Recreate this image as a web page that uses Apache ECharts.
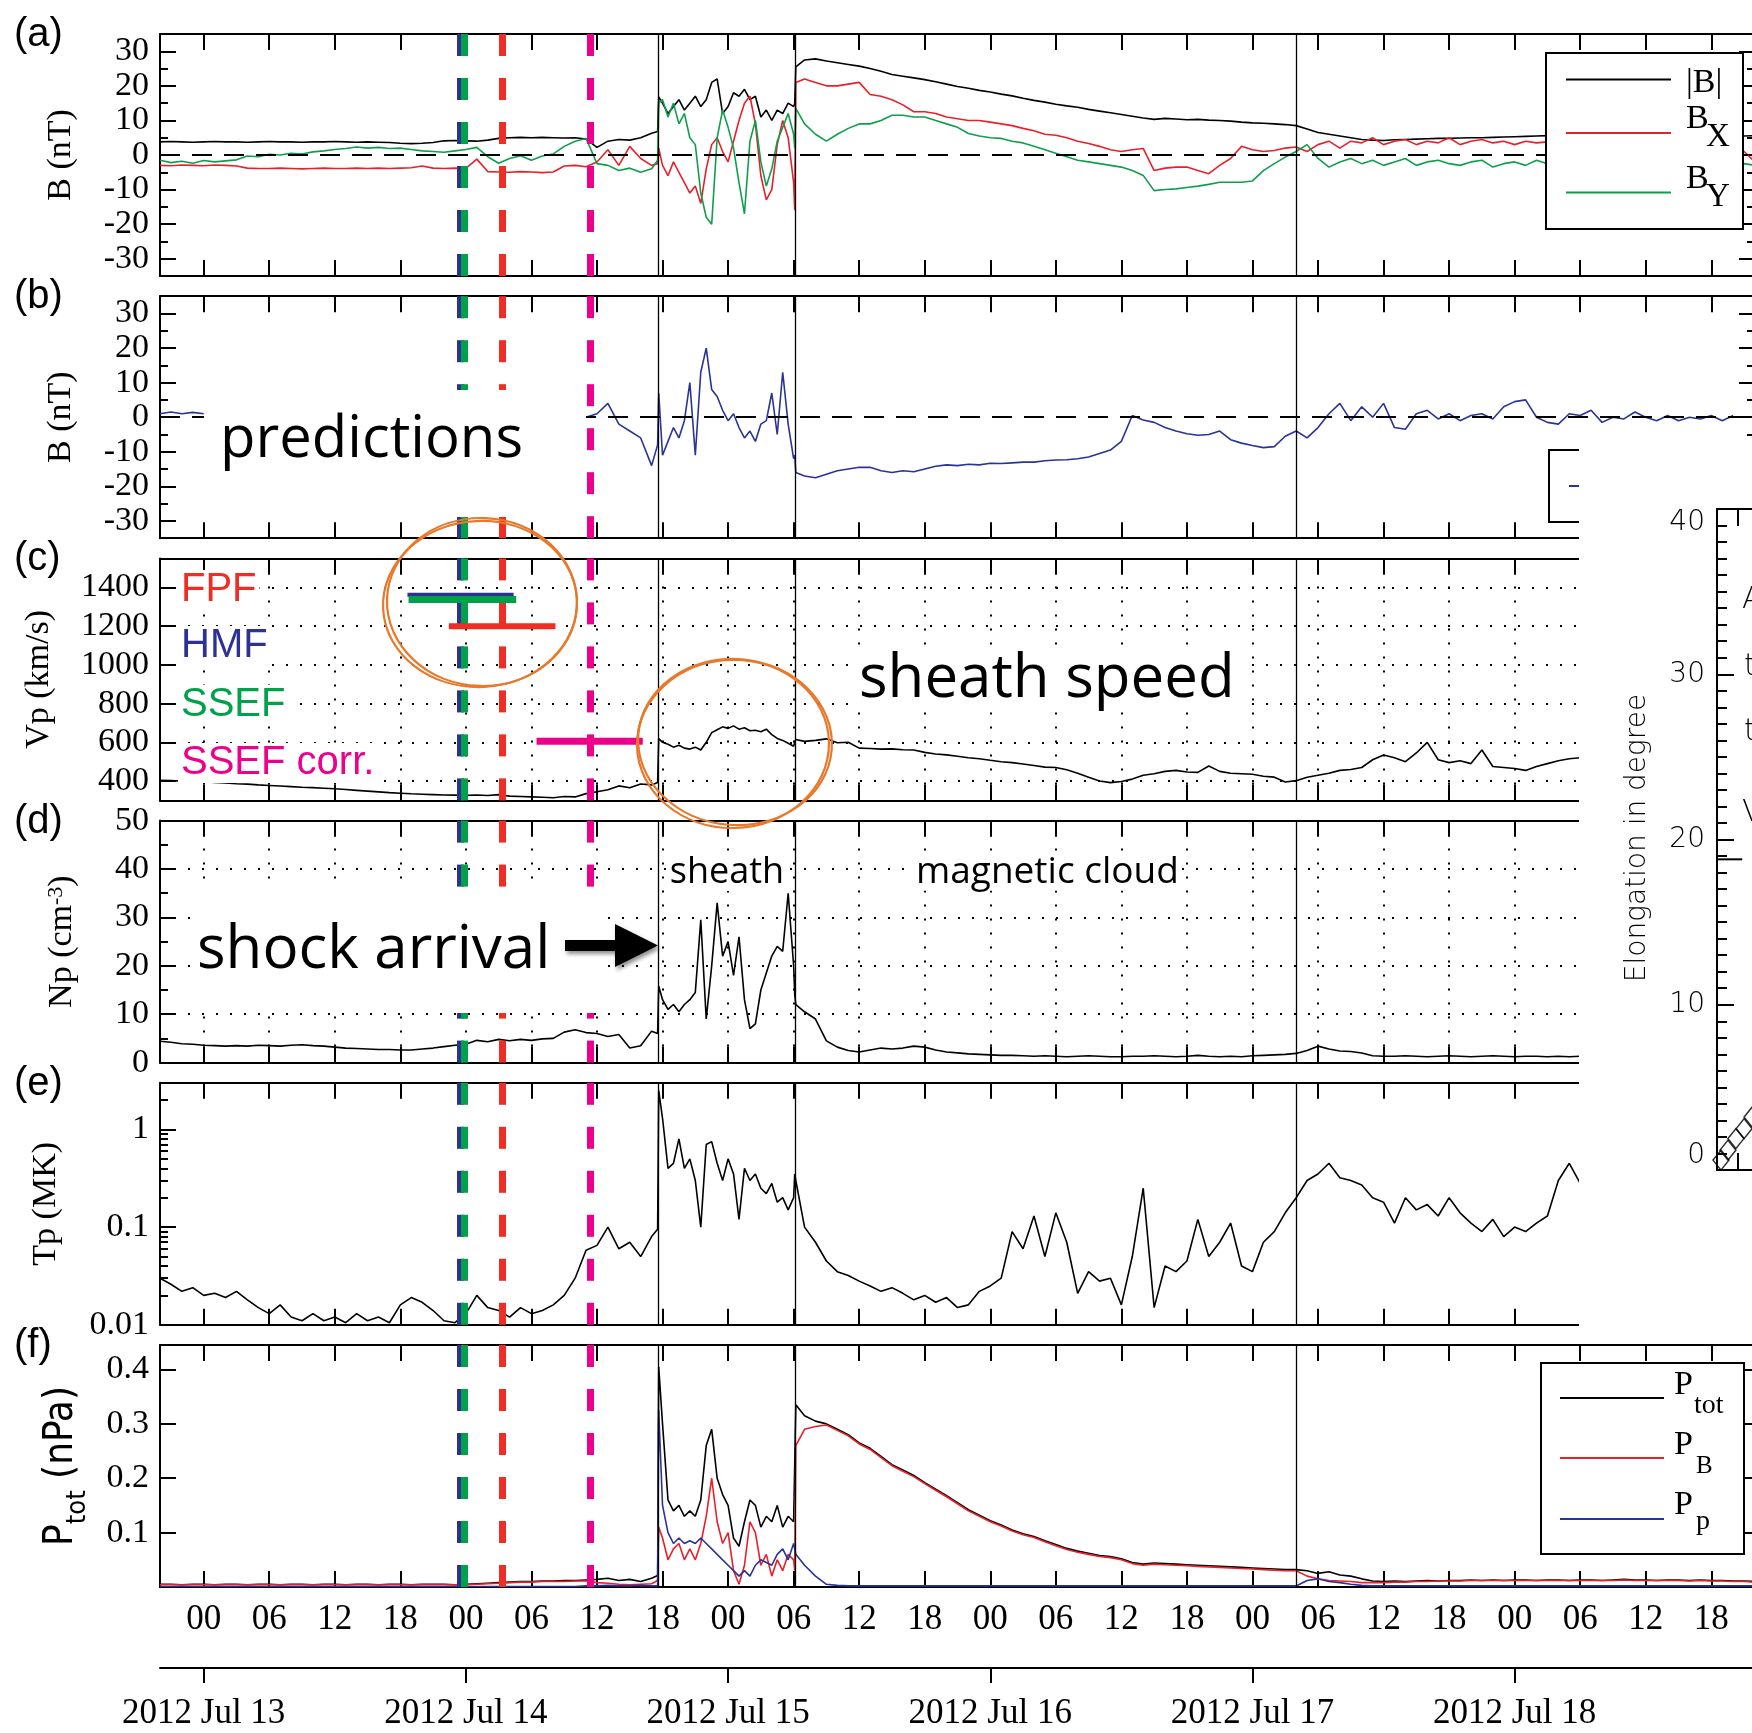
<!DOCTYPE html>
<html>
<head>
<meta charset="utf-8">
<title>2012 July 12 CME - in situ</title>
<script src="https://cdn.jsdelivr.net/npm/echarts@6/dist/echarts.min.js"></script>
<style>
html, body { margin: 0; padding: 0; background: #fff; }
#main { width: 1752px; height: 1733px; }
</style>
</head>
<body>
<div id="main"></div>
<script>
// time in hours from 2012 Jul 12 20:00 UT
var hrs = [
  0,1,2,3,4,5,6,7,8,9, 10,11,12,13,14,15,16,17,18,19, 20,21,22,23,24,25,26,27,28,29,
  30,31,32,33,34,35,36,37,38,39, 40,41,42,43,44,45,
  45.55,45.65,
  46,46.5,47,47.5,48,48.5,49,49.5,50,50.5,51,51.5,52,52.5,53,53.5,54,54.5,55,55.5,56,56.5,57,57.5,58,
  58.1,58.2,
  59,60,61,62,63,64,65,66,67,68, 69,70,71,72,73,74,75,76,77,78, 79,80,81,82,83,84,85,86,87,88,
  89,90,91,92,93,94,95,96,97,98, 99,100,101,102,103,104,105,106,107,108,
  109,110,111,112,113,114,115,116,117,118, 119,120,121,122,123,124,125,126,127,128,
  129,130,131,132,133,134,135,136,137,138, 139,140,141,142,143,144,145,146
];

// (a) |B|, Bx, By  [nT]
var bMag = [
  3.8,3.9,3.8,3.7,3.8,3.9,3.8,3.8,3.7,3.8, 3.9,3.8,3.8,3.7,3.8,3.8,3.9,3.8,3.7,3.8,
  3.7,3.6,3.4,3.3,3.4,3.6,4.1,4.2,4.1,4.0, 4.3,4.8,5.0,5.1,5.0,5.1,5.0,4.9,5.0,4.6,
  2.2,4.0,4.5,4.3,5.0,6.3,
  6.8,16.8,
  15,12,14,16,13,15,17,14,16,21,22,12,14,18,17,19,16,17,11,13,10,13,12,15,14,
  15,25.5,
  27.5,27.8,27.2,26.7,26.2,25.7,25.0,24.2,23.3,22.8, 22.3,21.8,21.2,20.5,19.8,19.3,18.7,18.2,17.6,17.1,
  16.4,15.8,15.3,14.7,14.2,13.8,13.2,12.7,12.2,11.7, 11.2,10.7,10.3,10.6,10.4,10.2,10.3,10.1,10.0,9.8,
  9.5,9.3,9.2,9.0,8.8,8.5,7.5,6.5,6.0,5.5, 5.0,4.5,4.3,4.2,4.4,4.5,4.6,4.7,4.8,4.8,
  4.9,5.0,5.0,5.1,5.2,5.3,5.4,5.5,5.6,5.6, 5.6,5.5,5.6,5.7,5.6,5.5,5.6,5.7,5.6,5.5,
  5.6,5.7,5.6,5.5,5.6,5.6,5.5,5.6
];
var bX = [
  -3.0,-3.1,-2.9,-3.0,-3.1,-2.9,-3.0,-3.2,-3.8,-3.9, -3.9,-3.8,-3.9,-4.0,-3.9,-3.8,-3.9,-3.9,-3.8,-3.9,
  -3.8,-3.9,-3.8,-3.7,-3.2,-3.8,-3.9,-3.8,-3.9,-1.2, -4.8,-4.9,-5.0,-4.8,-4.9,-5.1,-4.9,-3.2,-3.0,-3.4,
  -2.0,1.5,-3.0,2.5,-1.0,-3.0,
  -2.5,2,
  -3,-6,-2,-5,-8,-11,-9,-14,-4,3,5,1,-2,4,10,15,17,9,-6,-13,-10,3,10,5,-8,
  -16,21,
  22,21,20,20,20.5,21,17.5,17,16,14.5, 12.5,12.5,12,11,10.5,10,10,9.5,9,8.5,
  7.7,7,6,5.7,5,4,3.3,2.5,1.5,1, 1.5,1.9,-4.5,-3.8,-3.5,-3.5,-4.5,-5.4,-3,-1,
  2.5,1.5,1,1.3,2,2.3,1,3,4,2, 4,3.5,5,3,4,4.5,3,4,3.5,5,
  3,4,4.5,3.5,4,3,4,3.5,3.8,3.5, 3.6,3.2,3.8,3.5,3.4,3.9,3.3,3.6,3.5,3.2,
  3.4,3.1,3.3,2.8,2.5,2,1,-2
];
var bY = [
  -1.5,-2.2,-1.8,-2.4,-1.6,-2.0,-1.7,-1.4,-0.3,-0.5, 0.2,0.0,0.5,0.3,0.9,1.2,1.6,1.9,2.3,2.0,
  2.2,1.9,2.0,1.6,1.2,1.0,0.8,1.2,1.6,2.2, -0.5,-2.4,-1.0,-0.2,-1.5,-0.3,0.3,2.5,4.0,4.8,
  -2.5,-3.0,-4.5,-3.8,-5.0,-4.0,
  -1.5,15,
  16,11,15,9,12,5,3,-11,-18,-20,5,13,8,2,-8,-17,4,10,-2,-9,-4,4,8,12,6,
  2,13.5,
  9,6,4,6,7.7,9,9,10,11.5,11.5, 11,11,10,9,8,6.2,5.5,5,4.8,4,
  3.5,2.5,1.5,0.5,-0.5,-1.5,-2,-2.5,-3,-3.5, -4.5,-5.9,-10.3,-10,-9.8,-9.4,-9,-8.5,-7.9,-7.9,
  -7.9,-7.5,-4.5,-2.5,-0.6,1,3,-1,-3.5,-2, -1,-2.5,-1.5,-3,-2,-1,-3,-2,-1.5,-2.5,
  -3,-2,-1.5,-3.5,-2.5,-2,-3,-1.5,-2.5,-3, -2.2,-3,-2.5,-3.5,-2,-2.8,-3.2,-2.5,-3,-2.2,
  -2.8,-3.3,-2.5,-3,-2.2,-2.8,-2.5,-3
];
// (b) Bz [nT]
var bZ = [
  1.0,1.5,1.0,1.4,1.0,
  null,null,null,null,null,null,null,null,null,null,null,null,null,null,null,null,null,
  null,null,null,null,null,null,null,null,null,null,null,null,null,null,null,
  -0.5,3,0,1,4,-2,-4,
  -6,-14,
  -8,7,-11,-7,-3,-6,-1,10,-11,13,20,8,6,2,-1,1,-3,-6,-4,-7,-2,-1,7,-5,13,
  -2,-12,
  -11,-16,-17,-17.5,-16.5,-15.5,-15,-14.5,-14.5,-15.5, -16,-15.5,-15.8,-15,-14.2,-13.8,-14,-13.6,-13.8,-13.3,
  -13.4,-13.2,-13,-13,-12.6,-12.4,-12.3,-12,-11.5,-10.5, -9.5,-7,0.5,-0.8,-1.5,-3,-4,-4.8,-5.2,-5,
  -4,-6.5,-7.5,-8.2,-8.8,-8.5,-5.5,-4,-6,-3, 1,4,-1,3,0,4,-3,-3.5,1,2,
  -0.5,1,-1,0.5,1,-0.5,3,4.5,5,0, -1.5,-2,1,0.5,2,-1.5,0,-0.5,1.5,0,
  -1,0.5,-1,0,-0.5,0.5,-1,0.5
];
// (c) Vp [km/s]
var vP = [
  404,402,400,398,396,393,390,386,384,380, 377,374,371,368,366,363,360,356,352,348,
  344,340,337,334,332,330,328,327,326,328, 325,330,322,320,318,316,314,320,318,335,
  345,355,375,365,385,380,
  392,620,
  600,590,575,585,570,565,575,560,600,650,665,680,672,685,668,675,660,662,655,668,640,620,610,595,580,
  600,615,
  605,610,618,598,600,570,568,565,566,562, 560,548,540,535,528,520,515,507,500,495,
  488,480,472,470,458,440,420,400,392,398, 410,430,438,450,455,447,445,478,450,440,
  438,435,425,420,395,402,420,430,440,455, 460,470,510,535,520,500,545,600,510,495,
  505,490,560,475,470,465,455,475,490,505, 515,520
];
// (d) Np [cm^-3]
var nP = [
  4.4,4.2,3.9,3.8,3.6,3.5,3.4,3.5,3.4,3.6, 3.5,3.4,3.6,3.7,3.5,3.4,3.2,3.0,2.9,2.8,
  2.7,2.7,2.6,2.6,2.8,3.0,3.3,3.6,3.8,4.6, 4.3,4.8,4.5,4.8,4.6,4.9,5.0,6.3,6.8,6.2,
  6.0,5.4,5.8,3.0,3.5,6.5,
  6.0,15.8,
  13,11,12,10.5,12,13,14.5,29.5,9,20,33,22,25,18,26,13,7,8,15,18.5,22,24,23,35,20,
  14,12,
  10.5,9,4.5,3.2,2.5,2.2,2.6,3.0,2.8,3.0, 3.4,3.2,2.6,2.2,2.0,1.8,1.7,1.6,1.5,1.5,
  1.4,1.3,1.4,1.3,1.2,1.3,1.4,1.3,1.2,1.2, 1.3,1.3,1.4,1.3,1.2,1.3,1.5,1.3,1.2,1.3,
  1.2,1.4,1.5,1.6,1.7,1.9,2.5,3.4,2.8,2.4, 2.3,2.0,1.4,1.3,1.3,1.4,1.3,1.2,1.3,1.4,
  1.3,1.2,1.3,1.4,1.3,1.2,1.3,1.3,1.2,1.3, 1.2,1.3
];
// (e) Tp [MK]
var tP = [
  0.03,0.026,0.022,0.024,0.02,0.021,0.019,0.022,0.018,0.015, 0.013,0.016,0.012,0.011,0.013,0.011,0.012,0.0105,0.013,0.011,
  0.012,0.0105,0.016,0.019,0.017,0.014,0.011,0.0105,0.013,0.02, 0.015,0.014,0.012,0.015,0.013,0.014,0.016,0.02,0.03,0.058,
  0.065,0.1,0.06,0.07,0.05,0.08,
  0.095,2.5,
  1.3,0.4,0.45,0.8,0.4,0.5,0.3,0.1,0.7,0.75,0.45,0.3,0.5,0.35,0.12,0.4,0.3,0.35,0.25,0.22,0.28,0.18,0.2,0.15,0.2,
  0.35,0.3,
  0.1,0.07,0.045,0.035,0.032,0.028,0.025,0.022,0.024,0.021, 0.018,0.02,0.017,0.019,0.015,0.016,0.022,0.025,0.03,0.09,
  0.06,0.13,0.05,0.14,0.07,0.021,0.035,0.028,0.03,0.016, 0.05,0.25,0.015,0.04,0.035,0.045,0.12,0.05,0.07,0.11,
  0.04,0.035,0.07,0.09,0.14,0.2,0.3,0.35,0.45,0.32, 0.3,0.27,0.2,0.18,0.11,0.2,0.15,0.17,0.13,0.2,
  0.14,0.11,0.09,0.12,0.08,0.1,0.09,0.11,0.13,0.3, 0.45,0.28
];
// (f) pressures [nPa]
var pTot = [
  0.005,0.005,0.004,0.005,0.005,0.004,0.005,0.005,0.004,0.005, 0.005,0.004,0.005,0.005,0.004,0.005,0.005,0.004,0.005,0.005,
  0.004,0.005,0.005,0.004,0.005,0.005,0.005,0.004,0.005,0.006, 0.007,0.008,0.009,0.010,0.010,0.011,0.011,0.012,0.012,0.013,
  0.014,0.016,0.012,0.014,0.010,0.016,
  0.021,0.405,
  0.3,0.16,0.14,0.15,0.13,0.14,0.13,0.16,0.26,0.29,0.2,0.17,0.15,0.09,0.075,0.12,0.16,0.15,0.11,0.13,0.12,0.15,0.11,0.13,0.12,
  0.12,0.335,
  0.315,0.305,0.3,0.29,0.28,0.265,0.255,0.24,0.225,0.215, 0.205,0.192,0.18,0.168,0.155,0.142,0.132,0.122,0.114,0.105,
  0.098,0.093,0.085,0.078,0.071,0.066,0.062,0.058,0.056,0.052, 0.045,0.042,0.044,0.043,0.042,0.041,0.04,0.039,0.038,0.037,
  0.036,0.035,0.034,0.033,0.032,0.032,0.03,0.025,0.028,0.022, 0.02,0.015,0.011,0.01,0.011,0.01,0.011,0.012,0.011,0.012,
  0.012,0.013,0.012,0.013,0.012,0.013,0.013,0.012,0.013,0.013, 0.012,0.013,0.013,0.012,0.013,0.014,0.013,0.013,0.012,0.013,
  0.013,0.012,0.013,0.012,0.012,0.011,0.011,0.01
];
var pB = [
  0.004,0.004,0.004,0.004,0.004,0.004,0.004,0.004,0.004,0.004, 0.004,0.004,0.004,0.004,0.004,0.004,0.004,0.004,0.004,0.004,
  0.004,0.004,0.004,0.004,0.004,0.004,0.004,0.004,0.004,0.005, 0.006,0.007,0.008,0.009,0.009,0.010,0.010,0.010,0.011,0.011,
  0.008,0.007,0.005,0.004,0.005,0.006,
  0.012,0.11,
  0.09,0.05,0.07,0.08,0.05,0.07,0.05,0.08,0.13,0.2,0.12,0.08,0.1,0.03,0.005,0.04,0.12,0.1,0.04,0.06,0.02,0.05,0.03,0.06,0.05,
  0.03,0.26,
  0.29,0.295,0.298,0.288,0.278,0.263,0.253,0.238,0.223,0.213, 0.203,0.19,0.178,0.166,0.153,0.14,0.13,0.12,0.112,0.103,
  0.096,0.091,0.083,0.076,0.069,0.064,0.06,0.056,0.054,0.05, 0.043,0.04,0.042,0.041,0.04,0.039,0.038,0.037,0.036,0.035,
  0.034,0.033,0.032,0.031,0.03,0.03,0.02,0.015,0.012,0.011, 0.01,0.008,0.008,0.008,0.009,0.009,0.01,0.01,0.011,0.011,
  0.011,0.012,0.012,0.012,0.012,0.012,0.012,0.012,0.012,0.012, 0.012,0.012,0.012,0.012,0.012,0.013,0.012,0.012,0.012,0.012,
  0.012,0.011,0.012,0.011,0.011,0.01,0.01,0.009
];
var pP = [
  0.001,0.001,0.001,0.001,0.001,0.001,0.001,0.001,0.001,0.001, 0.001,0.001,0.001,0.001,0.001,0.001,0.001,0.001,0.001,0.001,
  0.001,0.001,0.001,0.001,0.001,0.001,0.001,0.001,0.001,0.001, 0.001,0.001,0.001,0.001,0.001,0.001,0.001,0.001,0.001,0.002,
  0.002,0.003,0.002,0.002,0.003,0.002,
  0.002,0.325,
  0.15,0.1,0.08,0.09,0.08,0.085,0.08,0.09,0.08,0.07,0.06,0.05,0.04,0.03,0.02,0.03,0.02,0.04,0.05,0.045,0.04,0.06,0.07,0.05,0.08,
  0.07,0.06,
  0.04,0.02,0.005,0.003,0.002,0.002,0.002,0.002,0.002,0.002, 0.002,0.002,0.002,0.002,0.002,0.002,0.002,0.002,0.002,0.002,
  0.002,0.002,0.002,0.002,0.002,0.002,0.002,0.002,0.002,0.002, 0.002,0.002,0.002,0.002,0.002,0.002,0.002,0.002,0.002,0.002,
  0.002,0.002,0.002,0.002,0.002,0.002,0.012,0.015,0.01,0.008, 0.005,0.003,0.002,0.002,0.002,0.002,0.002,0.002,0.002,0.002,
  0.002,0.002,0.002,0.002,0.002,0.002,0.002,0.002,0.002,0.002, 0.002,0.002,0.002,0.002,0.002,0.002,0.002,0.002,0.002,0.002,
  0.002,0.002,0.002,0.002,0.002,0.002,0.002,0.002
];

// events and predictions (hours from t0)
var eventHrs = [45.62, 58.13, 104.02];           // shock, MC start, MC end
var predNames = ['HMF', 'SSEF', 'FPF', 'SSEF corr.'];
var predHrs = [27.5, 27.81, 31.31, 39.38];       // predicted arrivals
var barStart = [22.65, 22.75, 26.44, 34.47];
var barEnd = [32.37, 32.61, 36.2, 44.19];
var barSpeed = [1362, 1338, 1200, 605];          // predicted speeds

// ticks
var hourTicks = [4,10,16,22,28,34,40,46,52,58,64,70,76,82,88,94,100,106,112,118,124,130,136,142];
var dayTicks = [4,28,52,76,100,124];
var dayLabels = ['2012 Jul 13','2012 Jul 14','2012 Jul 15','2012 Jul 16','2012 Jul 17','2012 Jul 18'];
var bTicks = [-30,-20,-10,0,10,20,30];
var bMinor = [-25,-15,-5,5,15,25];
var vTicks = [400,600,800,1000,1200,1400];
var nTicks = [0,10,20,30,40,50];
var nMinor = [5,15,25,35,45];
var tTicks = [0.01,0.1,1];
var tMinor = [0.02,0.03,0.04,0.05,0.06,0.07,0.08,0.09,0.2,0.3,0.4,0.5,0.6,0.7,0.8,0.9,2];
var pTicks = [0.1,0.2,0.3,0.4];

// fragment of the elongation plot at the right
var insetX = [0.19, 0.52, 0.9, 1.29, 1.67];
var insetY = [0.6, 1.2, 1.9, 2.5, 3.2];

var predColors = ['#2E3192', '#00A14B', '#EE2D24', '#EC008C'];
var barWidths = [4, 7, 6, 7];
var K = '#000';
var SERIF = "'Liberation Serif', 'Times New Roman', serif";
var SANS = "'Liberation Sans', Arial, sans-serif";
var NARROW = "'Liberation Sans Narrow', 'DejaVu Sans Condensed', 'Liberation Sans', sans-serif";
var HUM = "'Open Sans', 'Noto Sans', sans-serif";
var THIN = "'DejaVu Sans', sans-serif";
var ORANGE = '#E8782A';

var chart = echarts.init(document.getElementById('main'));

var GL = 160, GR = -3, GH = 242;
var tops = [34, 296.2, 558.4, 820.6, 1082.8, 1345];
var DOT = { color: K, width: 2, type: [2, 12] };

var grids = [], xAxes = [], yAxes = [], series = [];

function plain(v) { return String(v); }

function baseX(g, pos) {
    return {
        type: 'value', gridIndex: g, position: pos, min: 0, max: 146,
        axisLine: { show: true, onZero: false, lineStyle: { color: K, width: 2 } },
        axisTick: { show: true, inside: true, length: 16, customValues: hourTicks, lineStyle: { color: K, width: 2 } },
        axisLabel: { show: false },
        splitLine: { show: false }
    };
}

function yAx(g, p, pos, vals, len, withLine, withLabel, withDots) {
    return {
        type: p.type, logBase: 10, gridIndex: g, position: pos, min: p.min, max: p.max,
        axisLine: { show: withLine, onZero: false, lineStyle: { color: K, width: 2 } },
        axisTick: { show: vals.length > 0, inside: true, length: len, customValues: vals, lineStyle: { color: K, width: 2 } },
        axisLabel: withLabel ? { show: true, customValues: vals, margin: 11, fontFamily: SERIF, fontSize: 34, color: K, formatter: plain } : { show: false },
        splitLine: withDots ? { show: true, lineStyle: DOT } : { show: false },
        minorTick: { show: false }
    };
}

var panelY = [
    { type: 'value', min: -35, max: 35, major: bTicks, minor: bMinor, dots: false },
    { type: 'value', min: -35, max: 35, major: bTicks, minor: bMinor, dots: false },
    { type: 'value', min: 300, max: 1550, major: vTicks, minor: [], dots: true },
    { type: 'value', min: 0, max: 50, major: nTicks, minor: nMinor, dots: true },
    { type: 'log', min: 0.01, max: 3, major: tTicks, minor: tMinor, dots: false },
    { type: 'value', min: 0, max: 0.445, major: pTicks, minor: [], dots: false }
];

var xIdx = [], yIdx = [];
panelY.forEach(function (p, i) {
    grids.push({ left: GL, right: GR, top: tops[i], height: GH, outerBoundsMode: 'none' });
    xIdx.push(xAxes.length);
    var bx = baseX(i, 'bottom');
    if (p.dots) bx.splitLine = { show: true, lineStyle: DOT };
    if (i === 5) {
        bx.axisLabel = {
            show: true, customValues: hourTicks, margin: 15, fontFamily: SERIF, fontSize: 35, color: K,
            formatter: function (v) { var hh = (Math.round(v) + 20) % 24; return (hh < 10 ? '0' : '') + hh; }
        };
    }
    xAxes.push(bx, baseX(i, 'top'));
    yIdx.push(yAxes.length);
    yAxes.push(
        yAx(i, p, 'left', p.major, 16, true, true, p.dots),
        yAx(i, p, 'left', p.minor, 8, false, false, false),
        yAx(i, p, 'right', p.major, 16, true, false, false),
        yAx(i, p, 'right', p.minor, 8, false, false, false)
    );
});

// date axis under panel (f)
xAxes.push({
    type: 'value', gridIndex: 5, position: 'bottom', offset: 81, min: 0, max: 146,
    axisLine: { show: true, onZero: false, lineStyle: { color: K, width: 2 } },
    axisTick: { show: true, inside: false, length: 15, customValues: dayTicks, lineStyle: { color: K, width: 2 } },
    axisLabel: {
        show: true, customValues: dayTicks, margin: 28, fontFamily: SERIF, fontSize: 35, color: K,
        formatter: function (v) { return dayLabels[dayTicks.indexOf(Math.round(v))]; }
    },
    splitLine: { show: false }
});

function line(vals, color, p, z) {
    var d = [];
    for (var k = 0; k < vals.length; k++) d.push([hrs[k], vals[k]]);
    return {
        type: 'line', xAxisIndex: xIdx[p], yAxisIndex: yIdx[p], data: d,
        symbol: 'none', showSymbol: false, silent: true, animation: false,
        lineStyle: { color: color, width: 1.6 }, itemStyle: { color: color }, z: z || 2
    };
}

function marks(p, withZero) {
    var ev = eventHrs.map(function (t) {
        return { xAxis: t, lineStyle: { color: K, width: 1.3, type: 'solid' } };
    });
    if (withZero) ev.push({ yAxis: 0, lineStyle: { color: K, width: 2, type: [20, 12] } });
    var pr = predHrs.map(function (t, k) {
        return { xAxis: t, lineStyle: { color: predColors[k], width: 7, type: [22, 22] } };
    });
    var base = { type: 'line', xAxisIndex: xIdx[p], yAxisIndex: yIdx[p], data: [], silent: true, animation: false };
    return [
        Object.assign({}, base, { z: 3, markLine: { symbol: 'none', silent: true, animation: false, label: { show: false }, data: ev } }),
        Object.assign({}, base, { z: 4, markLine: { symbol: 'none', silent: true, animation: false, label: { show: false }, data: pr } })
    ];
}

series.push(line(bMag, K, 0), line(bX, '#E8202A', 0), line(bY, '#0E9F4C', 0));
series.push(line(bZ, '#2A3396', 1));
series.push(line(vP, K, 2));
series.push(line(nP, K, 3));
series.push(line(tP, K, 4));
series.push(line(pTot, K, 5), line(pB, '#E8202A', 5), line(pP, '#2A3396', 5));
series = series.concat(marks(0, true), marks(1, true), marks(2), marks(3), marks(4), marks(5));

for (var k = 0; k < barSpeed.length; k++) {
    series.push({
        type: 'line', xAxisIndex: xIdx[2], yAxisIndex: yIdx[2], symbol: 'none', silent: true, animation: false, z: 6,
        data: [[barStart[k], barSpeed[k]], [barEnd[k], barSpeed[k]]],
        lineStyle: { color: predColors[k], width: barWidths[k] }
    });
}

// inset fragment (elongation plot)
grids.push({ left: 1717, top: 509, height: 661, width: 210, outerBoundsMode: 'none' });
var ix = xAxes.length, iy = yAxes.length;
['bottom', 'top'].forEach(function (pos) {
    xAxes.push({
        type: 'value', gridIndex: 6, position: pos, min: 0, max: 10, interval: 1, zlevel: 2,
        axisLine: { show: true, onZero: false, lineStyle: { color: K, width: 2 } },
        axisTick: { show: true, inside: true, length: 17, lineStyle: { color: K, width: 2 } },
        axisLabel: { show: false }, splitLine: { show: false }
    });
});
yAxes.push({
    type: 'value', gridIndex: 6, position: 'left', min: 0, max: 40, interval: 10, zlevel: 2,
    axisLine: { show: true, onZero: false, lineStyle: { color: K, width: 2 } },
    axisTick: { show: true, inside: true, length: 17, lineStyle: { color: K, width: 2 } },
    minorTick: { show: true, splitNumber: 10, length: 10, lineStyle: { color: K, width: 2 } },
    axisLabel: { show: true, margin: 12, fontFamily: THIN, fontWeight: 200, fontSize: 28, color: K,
                 verticalAlignMinLabel: 'bottom', verticalAlignMaxLabel: 'top' },
    splitLine: { show: false }
});
series.push({
    type: 'scatter', xAxisIndex: ix, yAxisIndex: iy, zlevel: 2, silent: true, animation: false,
    symbol: 'diamond', symbolSize: [16, 20],
    data: insetX.map(function (x, i) { return [x, insetY[i]]; }),
    itemStyle: { color: 'rgba(255,255,255,0)', borderColor: K, borderWidth: 1.5 }
});
series.push({
    type: 'line', xAxisIndex: ix, yAxisIndex: iy, zlevel: 2, silent: true, animation: false, symbol: 'none',
    data: [[0, 18.8], [1.2, 18.8]], lineStyle: { color: K, width: 2 }
});

// ---- annotations ----
var G = [];
function T(x, y, s, font, size, extra) {
    var st = { text: s, fontFamily: font, fontSize: size, fill: K, align: 'left', verticalAlign: 'middle' };
    var el = { type: 'text', x: x, y: y, z: 60, silent: true, style: st };
    if (extra) {
        for (var key in extra) {
            if (key === 'rotation' || key === 'zlevel' || key === 'z') el[key] = extra[key];
            else st[key] = extra[key];
        }
    }
    return el;
}
['(a)', '(b)', '(c)', '(d)', '(e)', '(f)'].forEach(function (s, i) {
    G.push(T(14, tops[i] + 1, s, SANS, 40));
});

// y axis titles
var R90 = Math.PI / 2;
G.push(T(61, tops[0] + 121, 'B (nT)', SERIF, 34, { rotation: R90, align: 'center' }));
G.push(T(61, tops[1] + 121, 'B (nT)', SERIF, 34, { rotation: R90, align: 'center' }));
G.push(T(39, tops[2] + 121, 'Vp (km/s)', SERIF, 34, { rotation: R90, align: 'center' }));
G.push(T(75, tops[3] + 121, '{m|Np (cm}{s|-3}{m|)}', SERIF, 34, {
    rotation: R90, align: 'center',
    rich: { m: { fontFamily: SERIF, fontSize: 34, lineHeight: 60, verticalAlign: 'top', fill: K },
            s: { fontFamily: SERIF, fontSize: 22, lineHeight: 22, verticalAlign: 'top', fill: K } }
}));
G.push(T(46, tops[4] + 121, 'Tp (MK)', SERIF, 34, { rotation: R90, align: 'center' }));
G.push(T(62, tops[5] + 121, '{m|P}{s|tot}{m| (nPa)}', NARROW, 40, {
    rotation: R90, align: 'center',
    rich: { m: { fontFamily: NARROW, fontSize: 40, lineHeight: 40, verticalAlign: 'top', fill: K },
            s: { fontFamily: NARROW, fontSize: 27, lineHeight: 27, verticalAlign: 'top', padding: [22, 0, 0, 0], fill: K } }
}));

// legend (a)
G.push({ type: 'rect', z: 50, silent: true, shape: { x: 1546, y: 53, width: 197, height: 176 }, style: { fill: '#fff', stroke: K, lineWidth: 2 } });
[[79.5, K], [133, '#E8202A'], [192.5, '#0E9F4C']].forEach(function (r) {
    G.push({ type: 'line', z: 51, silent: true, shape: { x1: 1566, y1: r[0], x2: 1671, y2: r[0] }, style: { stroke: r[1], lineWidth: 2 } });
});
G.push(T(1686, 83, '|B|', SERIF, 34), T(1686, 119, 'B', SERIF, 34), T(1706, 137, 'X', SERIF, 33),
       T(1686, 179, 'B', SERIF, 34), T(1706, 197, 'Y', SERIF, 33));

// legend (f)
G.push({ type: 'rect', z: 50, silent: true, shape: { x: 1541, y: 1363, width: 203, height: 191 }, style: { fill: '#fff', stroke: K, lineWidth: 2 } });
[[1398, K], [1458, '#E8202A'], [1519, '#2A3396']].forEach(function (r) {
    G.push({ type: 'line', z: 51, silent: true, shape: { x1: 1560, y1: r[0], x2: 1664, y2: r[0] }, style: { stroke: r[1], lineWidth: 2 } });
});
G.push(T(1674, 1385, 'P', SERIF, 34), T(1694, 1406, 'tot', SERIF, 28),
       T(1674, 1445, 'P', SERIF, 34), T(1696, 1466, 'B', SERIF, 25),
       T(1674, 1505, 'P', SERIF, 34), T(1696, 1522, 'p', SERIF, 28));

// legend (b), mostly hidden
G.push({ type: 'rect', z: 50, silent: true, shape: { x: 1549, y: 450, width: 120, height: 72 }, style: { fill: '#fff', stroke: K, lineWidth: 2 } });
G.push({ type: 'line', z: 51, silent: true, shape: { x1: 1569, y1: 486, x2: 1620, y2: 486 }, style: { stroke: '#2A3396', lineWidth: 2 } });

// prediction labels in (c)
G.push(T(178, 590, predNames[2], SANS, 40, { fill: predColors[2], backgroundColor: '#fff', padding: [0, 3] }));
G.push(T(178, 646, predNames[0], SANS, 40, { fill: predColors[0], backgroundColor: '#fff', padding: [0, 3] }));
G.push(T(178, 705, predNames[1], SANS, 40, { fill: predColors[1], backgroundColor: '#fff', padding: [0, 3] }));
G.push(T(178, 763, predNames[3], SANS, 40, { fill: predColors[3], backgroundColor: '#fff', padding: [0, 3] }));

// "predictions" box in (b)
G.push({ type: 'rect', z: 50, silent: true, shape: { x: 204, y: 390, width: 382, height: 127 }, style: { fill: '#fff' } });
G.push(T(220, 440, 'predictions', HUM, 58));

// "shock arrival" box and arrow in (d)
G.push({ type: 'rect', z: 50, silent: true, shape: { x: 196, y: 889, width: 406, height: 124 }, style: { fill: '#fff' } });
G.push(T(197, 951, 'shock arrival', HUM, 60));
G.push({ type: 'polygon', z: 62, silent: true,
    shape: { points: [[565, 940], [615, 940], [615, 924], [658, 945.5], [615, 967], [615, 951], [565, 951]] },
    style: { fill: K, shadowBlur: 4, shadowColor: 'rgba(0,0,0,0.45)', shadowOffsetX: 2, shadowOffsetY: 3 } });

G.push(T(853, 680, 'sheath speed', HUM, 60, { backgroundColor: '#fff', padding: [2, 6] }));
G.push(T(727, 873, 'sheath', HUM, 36, { align: 'center', backgroundColor: '#fff', padding: [0, 3] }));
G.push(T(913, 872, 'magnetic cloud', HUM, 37, { backgroundColor: '#fff', padding: [0, 3] }));

// hand-drawn orange circles
[[480, 604, 97, 83, 0.05], [482, 602, 95, 84, -0.03], [735, 742, 97, 83, -0.08], [733, 744, 96, 84, 0.02]].forEach(function (e) {
    G.push({ type: 'ellipse', z: 65, silent: true, x: e[0], y: e[1], rotation: e[4],
        shape: { cx: 0, cy: 0, rx: e[2], ry: e[3] }, style: { fill: null, stroke: ORANGE, lineWidth: 2.2 } });
});

// white patch holding the elongation plot fragment
G.push({ type: 'rect', zlevel: 1, z: 1, silent: true, shape: { x: 1579, y: 447, width: 200, height: 888 }, style: { fill: '#fff' } });
G.push(T(1638, 838, 'Elongation in degree', THIN, 28, { rotation: R90, align: 'center', fontWeight: 200, zlevel: 2 }));
G.push(T(1742, 600, 'A', THIN, 30, { fontWeight: 200, zlevel: 2 }), T(1744, 667, 't', THIN, 30, { fontWeight: 200, zlevel: 2 }),
       T(1744, 732, 't', THIN, 30, { fontWeight: 200, zlevel: 2 }), T(1742, 813, 'V', THIN, 30, { fontWeight: 200, zlevel: 2 }));

chart.setOption({
    backgroundColor: '#fff',
    animation: false,
    textStyle: { fontFamily: SERIF },
    grid: grids,
    xAxis: xAxes,
    yAxis: yAxes,
    series: series,
    graphic: { elements: G }
});
</script>
</body>
</html>
